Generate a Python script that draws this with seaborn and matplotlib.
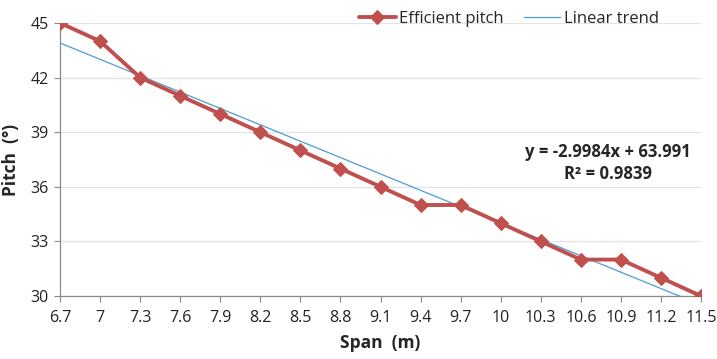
import matplotlib
matplotlib.use("Agg")
import matplotlib.pyplot as plt
import seaborn as sns
import numpy as np
import pandas as pd

span = [6.7, 7.0, 7.3, 7.6, 7.9, 8.2, 8.5, 8.8, 9.1, 9.4, 9.7, 10.0, 10.3, 10.6, 10.9, 11.2, 11.5]
span_labels = ["6.7", "7", "7.3", "7.6", "7.9", "8.2", "8.5", "8.8", "9.1", "9.4", "9.7",
               "10", "10.3", "10.6", "10.9", "11.2", "11.5"]
pitch = [45, 44, 42, 41, 40, 39, 38, 37, 36, 35, 35, 34, 33, 32, 32, 31, 30]
trend_slope = -2.9984
trend_intercept = 63.991
r_squared = 0.9839
y_ticks = [30, 33, 36, 39, 42, 45]

sns.set_theme(style="white")
plt.rcParams['font.family'] = ['Open Sans', 'DejaVu Sans']

fig = plt.figure(figsize=(7.17, 3.59), dpi=100)
ax = fig.add_axes([0.0837, 0.1755, 0.894, 0.7605])

df = pd.DataFrame({"span": span, "pitch": pitch})
span_arr = np.array(span)
trend_df = pd.DataFrame({"span": span_arr, "trend": trend_slope * span_arr + trend_intercept})

red = "#C0504D"
blue = "#4F9BD5"

sns.lineplot(data=df, x="span", y="pitch", ax=ax, color=red, linewidth=2.8,
             marker="D", markersize=7.5, markeredgecolor=red, label="Efficient pitch", zorder=3)
sns.lineplot(data=trend_df, x="span", y="trend", ax=ax, color=blue, linewidth=0.9,
             label="Linear trend", zorder=2)

ax.set_xlim(span[0], span[-1])
ax.set_ylim(30, 45)
ax.set_xticks(span)
ax.set_xticklabels(span_labels)
ax.set_yticks(y_ticks)
ax.tick_params(axis="both", labelsize=11.5, colors="#222222", length=4, width=0.8,
               direction="out", bottom=True, left=True, pad=4)
ax.tick_params(axis="x", pad=6, color="#888888")
ax.tick_params(axis="y", color="#888888")

ax.yaxis.grid(True, color="#E3E3E3", linewidth=0.9)
ax.set_axisbelow(True)
for s in ["top", "right"]:
    ax.spines[s].set_visible(False)
for s in ["left", "bottom"]:
    ax.spines[s].set_color("#8C8C8C")
    ax.spines[s].set_linewidth(0.9)

ax.set_xlabel("Span  (m)", fontsize=12.5, fontweight="bold", labelpad=6)
ax.set_ylabel("Pitch  (°)", fontsize=12.5, fontweight="bold", labelpad=8)

ax.text(0.855, 0.527, f"y = {trend_slope}x + {trend_intercept}", transform=ax.transAxes,
        ha="center", va="center", fontsize=12, fontweight="bold")
ax.text(0.855, 0.447, f"R² = {r_squared}", transform=ax.transAxes,
        ha="center", va="center", fontsize=12, fontweight="bold")

leg = ax.legend(loc="lower center", bbox_to_anchor=(0.70, 0.96), ncol=2, frameon=False,
                fontsize=12, handlelength=2.2, columnspacing=1.2, handletextpad=0.2,
                borderaxespad=0)

fig.savefig("out.png", dpi=100)
